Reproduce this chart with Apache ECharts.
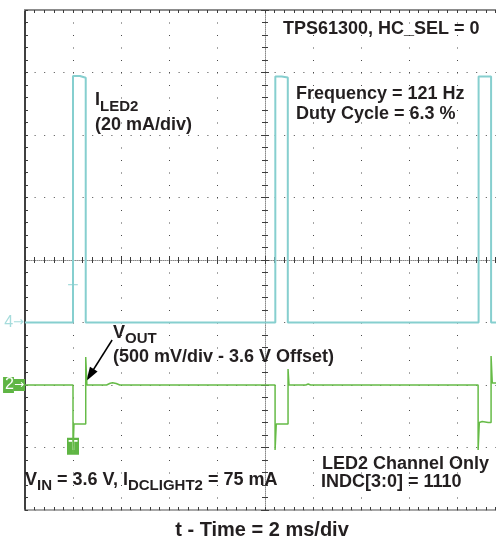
<!DOCTYPE html>
<html>
<head>
<meta charset="utf-8">
<title>TPS61300 LED2 current and VOUT</title>
<script src="https://cdn.jsdelivr.net/npm/echarts@6/dist/echarts.min.js"></script>
<style>
  html, body { margin: 0; padding: 0; background: #ffffff; }
  #chart { width: 496px; height: 540px; }
</style>
</head>
<body>
<div id="chart"></div>
<script>
// Horizontal scale: 2 ms per division, 10 divisions
const timeRange = [0, 20];
const timeStep = 2;
// Vertical graticule: 8 divisions
const divRange = [0, 8];

// Channel 4: LED2 current in mA (20 mA/div), zero at the "4" marker
const iledTime  = [0, 2.00, 2.00, 2.29, 2.29, 2.53, 2.53, 10.43, 10.43, 10.70, 10.70, 10.95, 10.95, 18.90, 18.90, 19.42, 19.42, 20];
const iledValue = [0, 0,    78.9, 78.9, 78.3, 78.3, 0,    0,     78.7,  78.7,  78.4,  78.4,  0,     0,     78.7,  78.7,  0,     0];
const iledScale = [-60, 100, 20];

// Channel 2: VOUT minus the 3.6 V offset in mV (500 mV/div), zero at the "2" marker
const voutTime  = [0, 2.00, 2.00, 2.04, 2.53, 2.53, 2.58, 3.40, 3.55, 3.65, 3.80, 3.95, 10.42, 10.42, 10.47, 10.96, 10.96, 11.00, 11.70, 11.80, 11.90, 18.88, 18.88, 18.93, 19.05, 19.30, 19.42, 19.42, 19.47, 20];
const voutValue = [0, 0,    -544, -312, -312, 224,  0,    0,    14,   18,   12,   0,    0,     -520,  -312,  -312,  128,   0,     0,     8,     0,     0,     -520,  -300,  -292,  -300,  -300,  232,   16,    16];
const voutScale = [-1000, 3000, 500];

// Trigger markers [ms, level] and the arrow pointing at VOUT [ms, mV]
const iledTrigger = [2, 10];
const voutTrigger = [2, -490];
const voutArrow = [[3.63, 360], [2.71, 80]];

const FONT = '"Liberation Sans", Arial, Helvetica, sans-serif';
const ARROW_FONT = '"DejaVu Sans", sans-serif';
const INK = '#231f20';
const CYAN = '#86cfcf';
const CYAN_LABEL = '#a6dcdc';
const GREEN = '#66bb47';
const GREEN_BOX = '#5fb544';
const DOT = '#4a4a4a';

const zip = (a, b) => a.map((v, i) => [v, b[i]]);

// Text measurement for placing subscripts next to their base text
const measureCtx = document.createElement('canvas').getContext('2d');
function textWidth(str, size) {
  measureCtx.font = 'bold ' + size + 'px ' + FONT;
  return measureCtx.measureText(str).width;
}
// Lay out runs of bold text on a shared baseline; each run may drop lower (subscript)
function textRun(x, baseline, parts) {
  const out = [];
  let cx = x;
  parts.forEach(p => {
    const size = p.size || 18;
    const base = baseline + (p.drop || 0);
    out.push({
      type: 'text', silent: true, z: 50,
      style: {
        text: p.t, x: cx, y: base - 0.35 * size,
        font: 'bold ' + size + 'px ' + FONT, fill: INK,
        textAlign: 'left', textVerticalAlign: 'middle', verticalAlign: 'middle'
      }
    });
    cx += textWidth(p.t, size);
  });
  return out;
}
function centeredText(cx, baseline, str, size) {
  return {
    type: 'text', silent: true, z: 50,
    style: {
      text: str, x: cx, y: baseline - 0.35 * size,
      font: 'bold ' + size + 'px ' + FONT, fill: INK,
      textAlign: 'center', textVerticalAlign: 'middle', verticalAlign: 'middle'
    }
  };
}

const tickStyle = { color: '#3c3c3c', width: 1 };
function borderX(position, extra) {
  return Object.assign({
    type: 'value', min: timeRange[0], max: timeRange[1], interval: timeStep,
    position: position,
    axisLine: { show: true, onZero: false, lineStyle: { color: '#8c8c8c', width: 1.5 } },
    axisTick: { show: true, inside: true, length: 3, lineStyle: tickStyle },
    minorTick: { show: true, splitNumber: 5, length: 3, lineStyle: tickStyle },
    axisLabel: { show: false },
    splitLine: { show: false }
  }, extra || {});
}
function borderY(position, extra) {
  return Object.assign({
    type: 'value', min: divRange[0], max: divRange[1], interval: 1,
    position: position,
    axisLine: { show: true, onZero: false, lineStyle: { color: '#000000', width: 1.5 } },
    axisTick: { show: true, inside: true, length: 3, lineStyle: tickStyle },
    minorTick: { show: true, splitNumber: 5, length: 3, lineStyle: tickStyle },
    axisLabel: { show: false },
    splitLine: { show: false }
  }, extra || {});
}
const centreLine = { show: true, onZero: false, lineStyle: { color: '#8a8a8a', width: 1, type: [1, 1] } };

const option = {
  animation: false,
  backgroundColor: '#ffffff',
  grid: { left: 25, top: 10, width: 480, height: 500, containLabel: false, outerBoundsMode: 'none' },
  xAxis: [
    // bottom border, carrying the vertical graticule
    borderX('bottom', {
      splitLine: { show: true, lineStyle: { color: DOT, width: 1, type: [1, 11.5] } }
    }),
    // top border
    borderX('top', { axisLine: { show: true, onZero: false, lineStyle: { color: '#8c8c8c', width: 2 } } }),
    // horizontal centre line, ticks on both sides
    borderX('bottom', { offset: -250, axisLine: centreLine, axisTick: { show: true, inside: true, length: 4, lineStyle: tickStyle } }),
    borderX('bottom', { offset: -250, axisLine: { show: false }, axisTick: { show: true, inside: false, length: 4, lineStyle: tickStyle } })
  ],
  yAxis: [
    // left border, carrying the horizontal graticule
    borderY('left', {
      splitLine: { show: true, lineStyle: { color: DOT, width: 1, type: [1, 8.6] } }
    }),
    // vertical centre line, ticks on both sides
    borderY('left', { offset: -240, axisLine: centreLine, axisTick: { show: true, inside: true, length: 4, lineStyle: tickStyle } }),
    borderY('left', { offset: -240, axisLine: { show: false }, axisTick: { show: true, inside: false, length: 4, lineStyle: tickStyle } }),
    // channel 4 scale (mA), marker at its zero
    {
      type: 'value', min: iledScale[0], max: iledScale[1], interval: iledScale[2], position: 'left',
      axisLine: { show: false }, axisTick: { show: false }, splitLine: { show: false },
      axisLabel: {
        show: true, margin: 1,
        formatter: v => (v === 0 ? '{n|4}{a|\u2192}' : ''),
        rich: {
          n: { color: CYAN_LABEL, fontSize: 16, fontFamily: FONT, lineHeight: 16 },
          a: { color: CYAN_LABEL, fontSize: 13, fontFamily: ARROW_FONT, lineHeight: 16 }
        }
      }
    },
    // channel 2 scale (mV), marker at its zero
    {
      type: 'value', min: voutScale[0], max: voutScale[1], interval: voutScale[2], position: 'left',
      axisLine: { show: false }, axisTick: { show: false }, splitLine: { show: false },
      axisLabel: {
        show: true, margin: 0,
        formatter: v => (v === 0 ? '{n|2}{a|\u2192}' : ''),
        rich: {
          n: { color: '#ffffff', backgroundColor: GREEN_BOX, fontSize: 16, fontFamily: FONT, lineHeight: 16, padding: [0, 0, 0, 2] },
          a: { color: '#ffffff', backgroundColor: GREEN_BOX, fontSize: 12, fontFamily: ARROW_FONT, lineHeight: 16, padding: [0, 1, 0, 0] }
        }
      }
    }
  ],
  series: [
    {
      name: 'ILED2', type: 'line', xAxisIndex: 0, yAxisIndex: 3,
      data: zip(iledTime, iledValue), showSymbol: false, symbol: 'none',
      lineStyle: { color: CYAN, width: 2 }, z: 10,
      markPoint: {
        silent: true, symbol: 'rect', symbolSize: [10, 16],
        itemStyle: { color: 'rgba(0,0,0,0)' },
        label: { show: true, formatter: 'T', color: CYAN_LABEL, fontSize: 17, fontFamily: FONT },
        data: [{ coord: iledTrigger }]
      }
    },
    {
      name: 'VOUT', type: 'line', xAxisIndex: 0, yAxisIndex: 4,
      data: zip(voutTime, voutValue), showSymbol: false, symbol: 'none',
      lineStyle: { color: GREEN, width: 1.5 }, z: 11,
      markPoint: {
        silent: true, symbol: 'rect', symbolSize: [12, 17],
        itemStyle: { color: GREEN_BOX },
        label: { show: true, formatter: 'T', color: '#ffffff', fontSize: 15, fontWeight: 'bold', fontFamily: FONT },
        data: [{ coord: voutTrigger }]
      },
      markLine: {
        silent: true, symbol: ['none', 'triangle'], symbolSize: [9, 14],
        label: { show: false },
        lineStyle: { color: '#000000', width: 1.5, type: 'solid' },
        data: [[{ coord: voutArrow[0] }, { coord: voutArrow[1] }]]
      }
    }
  ],
  graphic: [].concat(
    textRun(283, 35.5, [{ t: 'TPS61300, HC_SEL = 0' }]),
    textRun(296, 100.5, [{ t: 'Frequency = 121 Hz' }]),
    textRun(296, 120.5, [{ t: 'Duty Cycle = 6.3 %' }]),
    textRun(95, 106, [{ t: 'I' }, { t: 'LED2', size: 15, drop: 6 }]),
    textRun(95, 131.5, [{ t: '(20 mA/div)' }]),
    textRun(113, 339, [{ t: 'V' }, { t: 'OUT', size: 15, drop: 5 }]),
    textRun(113, 363, [{ t: '(500 mV/div - 3.6 V Offset)' }]),
    textRun(25, 486, [
      { t: 'V' }, { t: 'IN', size: 15, drop: 5 },
      { t: ' = 3.6 V, I' }, { t: 'DCLIGHT2', size: 15, drop: 5 },
      { t: ' = 75 mA' }
    ]),
    textRun(322, 470, [{ t: 'LED2 Channel Only' }]),
    textRun(321, 488, [{ t: 'INDC[3:0] = 1110' }]),
    [centeredText(262, 537, 't - Time = 2 ms/div', 20)]
  )
};

const chart = echarts.init(document.getElementById('chart'), null, { renderer: 'canvas' });
chart.setOption(option);
</script>
</body>
</html>
